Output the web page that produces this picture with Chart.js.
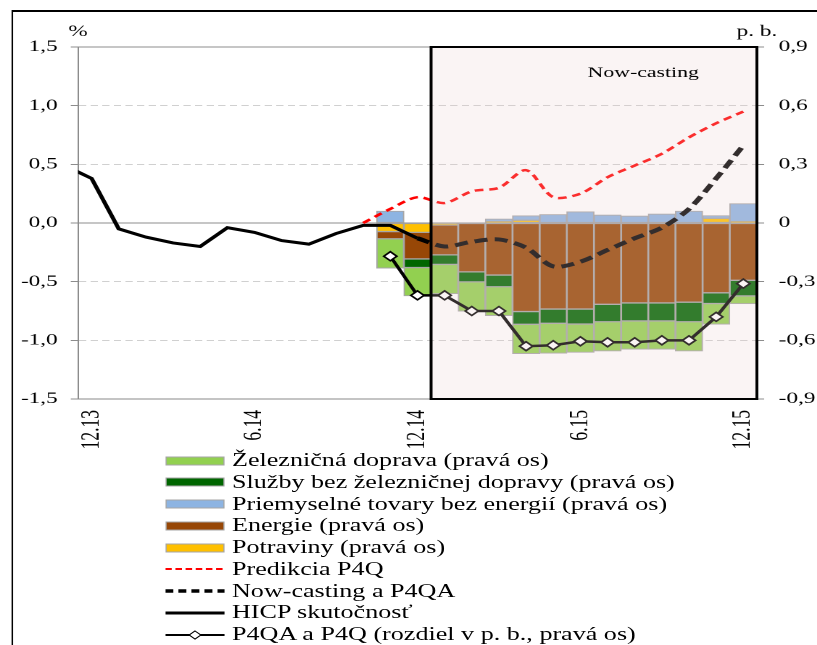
<!DOCTYPE html>
<html>
<head>
<meta charset="utf-8">
<script src="https://cdn.jsdelivr.net/npm/chart.js@4/dist/chart.umd.min.js"></script>
<style>
html, body { margin: 0; padding: 0; background: #fff; overflow: hidden; width: 817px; height: 645px; }
#wrap {
    position: absolute; left: 0; top: 0; width: 564px; height: 645px;
    transform: scaleX(1.45); transform-origin: 0 0;
    font-family: "Liberation Serif", "Times New Roman", serif;
}
#frame { position: absolute; left: 8px; top: 10px; width: 700px; height: 700px; border: 2px solid #000; border-left-width: 1.6px; }
#chart { position: absolute; left: 0; top: 0; }
.row { position: absolute; left: 114px; height: 22px; display: flex; align-items: center; font-size: 18px; white-space: nowrap; color: #000; }
.row svg { margin-right: 5px; flex: none; }
</style>
</head>
<body>
<div id="wrap">
    <div id="frame"></div>
    <canvas id="chart" width="563" height="455"></canvas>
    <div id="legend"></div>
</div>
<script>
// ───────────────────────── DATA ─────────────────────────
// x position of a month = its index in this list minus 1 (so 12.13 sits at 0)
const months = ["11.13", "12.13", "1.14", "2.14", "3.14", "4.14", "5.14", "6.14", "7.14", "8.14", "9.14", "10.14", "11.14", "12.14",
                "1.15", "2.15", "3.15", "4.15", "5.15", "6.15", "7.15", "8.15", "9.15", "10.15", "11.15", "12.15"];
const xTickMonths = ["12.13", "6.14", "12.14", "6.15", "12.15"];
const leftTicks  = [-1.5, -1.0, -0.5, 0, 0.5, 1.0, 1.5];
const rightTicks = [-0.9, -0.6, -0.3, 0, 0.3, 0.6, 0.9];
const nowcastStart = "1.15";

// left axis (%)
const hicp       = [0.49, 0.38, -0.05, -0.12, -0.17, -0.20, -0.04, -0.08, -0.15, -0.18, -0.09, -0.02, -0.02, -0.13];   // from 11.13
const predikcia  = [0.00, 0.12, 0.22, 0.17, 0.27, 0.30, 0.45, 0.22, 0.25, 0.39, 0.49, 0.59, 0.73, 0.85, 0.95];         // from 10.14
const nowcasting = [-0.13, -0.20, -0.16, -0.14, -0.21, -0.37, -0.33, -0.23, -0.13, -0.04, 0.12, 0.38, 0.66];            // from 12.14

// right axis (p. b.), all from 11.14
const potraviny   = [-0.044, -0.048, -0.010, null, 0.007, 0.014, null, null, null, null, null, null, 0.024, 0.007];
const energie     = [-0.037, -0.136, -0.153, -0.250, -0.266, -0.453, -0.440, -0.440, -0.416, -0.409, -0.409, -0.405, -0.357, -0.293];
const priemyselne = [0.061, null, null, null, 0.014, 0.023, 0.044, 0.058, 0.041, 0.036, 0.046, 0.061, 0.014, 0.092];
const sluzby      = [null, -0.044, -0.049, -0.051, -0.060, -0.065, -0.073, -0.077, -0.089, -0.092, -0.092, -0.100, -0.055, -0.080];
const zeleznicna  = [-0.150, -0.145, -0.150, -0.150, -0.148, -0.150, -0.153, -0.145, -0.150, -0.145, -0.145, -0.150, -0.106, -0.040];
const rozdiel     = [-0.17, -0.37, -0.37, -0.45, -0.45, -0.63, -0.625, -0.605, -0.61, -0.61, -0.60, -0.60, -0.48, -0.31];

const legendOrder = [
    "Železničná doprava (pravá os)",
    "Služby bez železničnej dopravy (pravá os)",
    "Priemyselné tovary bez energií (pravá os)",
    "Energie (pravá os)",
    "Potraviny (pravá os)",
    "Predikcia P4Q",
    "Now-casting a P4QA",
    "HICP skutočnosť",
    "P4QA a P4Q (rozdiel v p. b., pravá os)"
];

// ── turn a list that starts at a given month into {x, y} points ──
function series(startMonth, values) {
    const start = months.indexOf(startMonth) - 1;
    return values.map((v, i) => ({ x: start + i, y: v })).filter(p => p.y !== null);
}
const fmt = v => v.toFixed(1).replace(".", ",");
const FONT = "'Liberation Serif', 'Times New Roman', serif";

function barSet(label, color, start, values) {
    return {
        type: "bar", label, data: series(start, values), yAxisID: "y2", order: 1,
        backgroundColor: color, borderColor: "#a6a6a6", borderWidth: 1, borderSkipped: false,
        barPercentage: 1, categoryPercentage: 1
    };
}

// ───────────────────────── NOW-CASTING BOX + AXIS UNITS ─────────────────────────
const nowcastBox = {
    id: "nowcastBox",
    afterDatasetsDraw(chart) {
        const { ctx, chartArea: a, scales } = chart;
        const left = scales.x.getPixelForValue(months.indexOf(nowcastStart) - 1 - 0.5);
        ctx.save();
        ctx.fillStyle = "rgba(232, 205, 205, 0.22)";
        ctx.fillRect(left, a.top, a.right - left, a.bottom - a.top);
        ctx.strokeStyle = "#000";
        ctx.lineWidth = 2;
        ctx.strokeRect(left, a.top, a.right - left, a.bottom - a.top);
        ctx.fillStyle = "#000";
        ctx.font = "15px " + FONT;
        ctx.textAlign = "center";
        ctx.textBaseline = "middle";
        ctx.fillText("Now-casting", (left + a.right) / 2 + 34, a.top + 26);
        ctx.font = "16px " + FONT;
        ctx.textBaseline = "alphabetic";
        ctx.fillText("%", a.left, a.top - 11);
        ctx.fillText("p. b.", a.right, a.top - 11);
        ctx.restore();
    }
};

// ───────────────────────── CHART ─────────────────────────
const datasets = [
    { type: "line", label: "HICP skutočnosť", data: series("11.13", hicp), yAxisID: "y", order: 0,
      borderColor: "#000", borderWidth: 3, pointRadius: 0, tension: 0 },
    { type: "line", label: "Predikcia P4Q", data: series("10.14", predikcia), yAxisID: "y", order: 0,
      borderColor: "#ff0000", borderWidth: 2.5, borderDash: [6, 4], pointRadius: 0, tension: 0.3 },
    { type: "line", label: "Now-casting a P4QA", data: series("12.14", nowcasting), yAxisID: "y", order: 0,
      borderColor: "#000", borderWidth: 4, borderDash: [9, 5], pointRadius: 0, tension: 0.3 },
    { type: "line", label: "P4QA a P4Q (rozdiel v p. b., pravá os)", data: series("11.14", rozdiel), yAxisID: "y2", order: 0,
      stack: "diff", borderColor: "#000", borderWidth: 2.5, tension: 0,
      pointStyle: "rectRot", pointRadius: 4.5, pointBackgroundColor: "#fff", pointBorderColor: "#000", pointBorderWidth: 1.5 },
    barSet("Potraviny (pravá os)", "#ffc000", "11.14", potraviny),
    barSet("Energie (pravá os)", "#974706", "11.14", energie),
    barSet("Priemyselné tovary bez energií (pravá os)", "#8db4e2", "11.14", priemyselne),
    barSet("Služby bez železničnej dopravy (pravá os)", "#006600", "11.14", sluzby),
    barSet("Železničná doprava (pravá os)", "#92d050", "11.14", zeleznicna)
];

const chart = new Chart(document.getElementById("chart"), {
    data: { datasets },
    plugins: [nowcastBox],
    options: {
        responsive: false,
        animation: false,
        devicePixelRatio: 2,
        layout: { padding: { top: 47, left: 0, right: 0, bottom: 0 } },
        plugins: { legend: { display: false }, tooltip: { enabled: false } },
        scales: {
            x: {
                type: "linear", min: -0.5, max: months.length - 1.5, stacked: true, offset: false,
                afterBuildTicks: s => { s.ticks = xTickMonths.map(m => ({ value: months.indexOf(m) - 1 })); },
                afterFit: s => { s.height = 56; },
                grid: { drawOnChartArea: false, drawTicks: false, offset: false },
                border: { display: true, color: "#888" },
                ticks: { callback: v => months[v + 1], minRotation: 90, maxRotation: 90, autoSkip: false,
                         padding: 11, color: "#000", font: { family: FONT, size: 17.5 } }
            },
            y: {
                position: "left", min: -1.5, max: 1.5,
                afterBuildTicks: s => { s.ticks = leftTicks.map(v => ({ value: v })); },
                afterFit: s => { s.width = 53.8; },
                grid: {
                    color: c => (c.tick && (c.tick.value === 0 || Math.abs(c.tick.value) === 1.5)) ? "#8c8c8c" : "#d0d0d0",
                    tickLength: 5, tickColor: "#8c8c8c"
                },
                border: { display: true, color: "#8c8c8c", dash: c => (c.tick && c.tick.value !== 0 && Math.abs(c.tick.value) !== 1.5) ? [5, 3] : [] },
                ticks: { callback: v => fmt(v), padding: 9, color: "#000", font: { family: FONT, size: 16 } }
            },
            y2: {
                position: "right", min: -0.9, max: 0.9, stacked: true,
                afterBuildTicks: s => { s.ticks = rightTicks.map(v => ({ value: v })); },
                afterFit: s => { s.width = 41; },
                grid: { drawOnChartArea: false, tickLength: 5, tickColor: "#8c8c8c" },
                border: { display: false },
                ticks: { callback: v => Math.abs(v) < 1e-9 ? "0" : fmt(v), padding: 10, color: "#000", font: { family: FONT, size: 16 } }
            }
        }
    }
});

// ───────────────────────── LEGEND (one column, built from the datasets) ─────────────────────────
const legendEl = document.getElementById("legend");
legendOrder.forEach((label, i) => {
    const ds = datasets.find(d => d.label === label);
    let sym;
    if (ds.type === "bar") {
        sym = `<rect x="0.5" y="3" width="40" height="8" fill="${ds.backgroundColor}" stroke="#a6a6a6" stroke-width="1"/>`;
    } else {
        const dash = ds.borderDash ? `stroke-dasharray="${ds.label.startsWith("Predikcia") ? "4.5,2.5" : "5.5,3.5"}"` : "";
        const w = ds.borderWidth > 3 ? 3.5 : (ds.borderWidth > 2.5 ? 3 : 2);
        sym = `<line x1="0" y1="7" x2="41" y2="7" stroke="${ds.borderColor}" stroke-width="${w}" ${dash}/>`;
        if (ds.pointStyle) sym += `<polygon points="20.5,3 24.5,7 20.5,11 16.5,7" fill="#fff" stroke="#000" stroke-width="1"/>`;
    }
    const row = document.createElement("div");
    row.className = "row";
    row.style.top = (460.5 + i * 21.75 - 11) + "px";
    row.innerHTML = `<svg width="41" height="14">${sym}</svg><span>${label}</span>`;
    legendEl.appendChild(row);
});
</script>
</body>
</html>
